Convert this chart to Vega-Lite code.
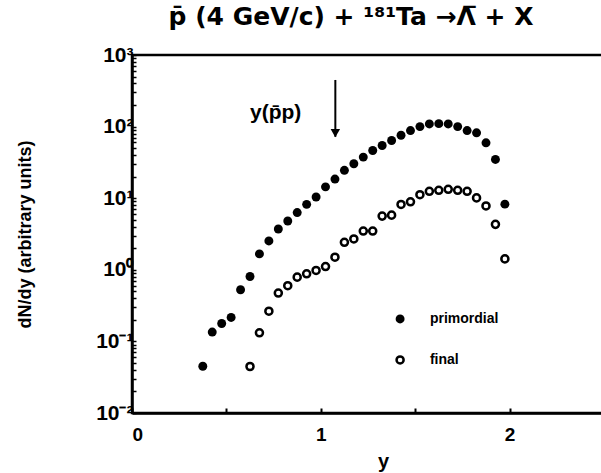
{
  "$schema": "https://vega.github.io/schema/vega-lite/v6.json",
  "width": 472,
  "height": 358,
  "autosize": "none",
  "padding": {"left": 132, "top": 55, "right": 0, "bottom": 60},
  "background": "white",
  "config": {
    "view": {"stroke": "black", "strokeWidth": 2.5},
    "font": "Liberation Sans",
    "axis": {"grid": false, "labelColor": "black", "titleColor": "black"}
  },
  "title": {
    "text": "p̄ (4 GeV/c) + ¹⁸¹Ta →Λ̅ + X",
    "fontSize": 25,
    "fontWeight": "bold",
    "font": "DejaVu Sans",
    "color": "black",
    "anchor": "middle",
    "dx": -17,
    "offset": 14
  },
  "datasets": {
    "primordial": [
      {"y": 0.375, "dNdy": 0.045},
      {"y": 0.425, "dNdy": 0.135},
      {"y": 0.475, "dNdy": 0.178},
      {"y": 0.525, "dNdy": 0.216},
      {"y": 0.575, "dNdy": 0.527},
      {"y": 0.625, "dNdy": 0.807},
      {"y": 0.675, "dNdy": 1.67},
      {"y": 0.725, "dNdy": 2.53},
      {"y": 0.775, "dNdy": 3.71},
      {"y": 0.825, "dNdy": 4.8},
      {"y": 0.875, "dNdy": 6.3},
      {"y": 0.925, "dNdy": 8.2},
      {"y": 0.975, "dNdy": 10.4},
      {"y": 1.025, "dNdy": 14.4},
      {"y": 1.075, "dNdy": 18.5},
      {"y": 1.125, "dNdy": 24.5},
      {"y": 1.175, "dNdy": 30.3},
      {"y": 1.225, "dNdy": 37.5},
      {"y": 1.275, "dNdy": 46.4},
      {"y": 1.325, "dNdy": 54.5},
      {"y": 1.375, "dNdy": 63.9},
      {"y": 1.425, "dNdy": 75.7},
      {"y": 1.475, "dNdy": 88},
      {"y": 1.525, "dNdy": 100},
      {"y": 1.575, "dNdy": 109},
      {"y": 1.625, "dNdy": 110},
      {"y": 1.675, "dNdy": 109},
      {"y": 1.725, "dNdy": 100},
      {"y": 1.775, "dNdy": 88},
      {"y": 1.825, "dNdy": 81.8},
      {"y": 1.875, "dNdy": 59.4},
      {"y": 1.925, "dNdy": 34.8},
      {"y": 1.975, "dNdy": 8.26}
    ],
    "final": [
      {"y": 0.625, "dNdy": 0.0446},
      {"y": 0.675, "dNdy": 0.132},
      {"y": 0.725, "dNdy": 0.264},
      {"y": 0.775, "dNdy": 0.474},
      {"y": 0.825, "dNdy": 0.6},
      {"y": 0.875, "dNdy": 0.79},
      {"y": 0.925, "dNdy": 0.88},
      {"y": 0.975, "dNdy": 0.98},
      {"y": 1.025, "dNdy": 1.11},
      {"y": 1.075, "dNdy": 1.5},
      {"y": 1.125, "dNdy": 2.42},
      {"y": 1.175, "dNdy": 2.7},
      {"y": 1.225, "dNdy": 3.48},
      {"y": 1.275, "dNdy": 3.48},
      {"y": 1.325, "dNdy": 5.62},
      {"y": 1.375, "dNdy": 5.8},
      {"y": 1.425, "dNdy": 8.18},
      {"y": 1.475, "dNdy": 8.9},
      {"y": 1.525, "dNdy": 11.2},
      {"y": 1.575, "dNdy": 12.5},
      {"y": 1.625, "dNdy": 12.9},
      {"y": 1.675, "dNdy": 13.3},
      {"y": 1.725, "dNdy": 12.9},
      {"y": 1.775, "dNdy": 12.5},
      {"y": 1.825, "dNdy": 10.1},
      {"y": 1.875, "dNdy": 7.8},
      {"y": 1.925, "dNdy": 4.31},
      {"y": 1.975, "dNdy": 1.42}
    ],
    "arrow": [{"y": 1.077, "top": 448, "bottom": 72, "tip": 81}],
    "label": [{"y": 0.625, "dNdy": 155, "text": "y(p̄p)"}],
    "legend": [
      {"y": 1.42, "dNdy": 0.206, "tx": 1.578, "text": "primordial", "kind": "primordial"},
      {"y": 1.42, "dNdy": 0.055, "tx": 1.578, "text": "final", "kind": "final"}
    ]
  },
  "layer": [
    {
      "data": {"name": "primordial"},
      "mark": {"type": "point", "shape": "circle", "filled": true, "color": "black", "opacity": 1, "size": 80},
      "encoding": {
        "x": {
          "field": "y", "type": "quantitative",
          "scale": {"domain": [0, 2.5], "nice": false, "zero": false},
          "axis": {
            "orient": "bottom",
            "domain": true, "domainColor": "black", "domainWidth": 2.5,
            "ticks": true, "tickColor": "black", "tickSize": -5, "tickWidth": 2,
            "values": [0, 0.5, 1, 1.5, 2, 2.5],
            "labelExpr": "datum.value==0?'0':datum.value==1?'1':datum.value==2?'2':''",
            "labelFontSize": 19, "labelFontWeight": "bold", "labelPadding": 17,
            "title": "y", "titleFontSize": 20, "titleFontWeight": "bold",
            "titleX": 251, "titleY": 38
          }
        },
        "y": {
          "field": "dNdy", "type": "quantitative",
          "scale": {"type": "log", "domain": [0.01, 1000], "nice": false},
          "axis": {
            "orient": "left",
            "domain": true, "domainColor": "black", "domainWidth": 2.5,
            "ticks": true, "tickColor": "black", "tickSize": -4, "tickWidth": 1.5,
            "values": [0.01, 0.02, 0.03, 0.04, 0.05, 0.06, 0.07, 0.08, 0.09, 0.1, 0.2, 0.3, 0.4, 0.5, 0.6, 0.7, 0.8, 0.9, 1, 2, 3, 4, 5, 6, 7, 8, 9, 10, 20, 30, 40, 50, 60, 70, 80, 90, 100, 200, 300, 400, 500, 600, 700, 800, 900, 1000],
            "labelExpr": "datum.value==1000?'10³':datum.value==100?'10²':datum.value==10?'10¹':datum.value==1?'10⁰':datum.value==0.1?'10⁻¹':datum.value==0.01?'10⁻²':''",
            "labelFontSize": 21, "labelFontWeight": "bold", "labelPadding": 3,
            "labelBaseline": "middle",
            "title": "dN/dy  (arbitrary units)", "titleFontSize": 18, "titleFontWeight": "bold",
            "titleX": -107, "titleY": 179, "titleAlign": "center", "titleBaseline": "middle", "titleAngle": -90
          }
        }
      }
    },
    {
      "data": {"name": "final"},
      "mark": {"type": "point", "shape": "circle", "filled": false, "color": "black", "opacity": 1, "size": 50, "strokeWidth": 2.5},
      "encoding": {
        "x": {"field": "y", "type": "quantitative"},
        "y": {"field": "dNdy", "type": "quantitative"}
      }
    },
    {
      "data": {"name": "arrow"},
      "mark": {"type": "rule", "color": "black", "strokeWidth": 2},
      "encoding": {
        "x": {"field": "y", "type": "quantitative"},
        "y": {"field": "top", "type": "quantitative"},
        "y2": {"field": "bottom"}
      }
    },
    {
      "data": {"name": "arrow"},
      "mark": {"type": "point", "shape": "triangle-down", "filled": true, "color": "black", "opacity": 1, "size": 90},
      "encoding": {
        "x": {"field": "y", "type": "quantitative"},
        "y": {"field": "tip", "type": "quantitative"}
      }
    },
    {
      "data": {"name": "label"},
      "mark": {"type": "text", "align": "left", "baseline": "middle", "fontSize": 21, "fontWeight": "bold", "font": "Liberation Sans", "color": "black"},
      "encoding": {
        "x": {"field": "y", "type": "quantitative"},
        "y": {"field": "dNdy", "type": "quantitative"},
        "text": {"field": "text"}
      }
    },
    {
      "data": {"name": "legend"},
      "transform": [{"filter": "datum.kind=='primordial'"}],
      "mark": {"type": "point", "shape": "circle", "filled": true, "color": "black", "opacity": 1, "size": 80},
      "encoding": {
        "x": {"field": "y", "type": "quantitative"},
        "y": {"field": "dNdy", "type": "quantitative"}
      }
    },
    {
      "data": {"name": "legend"},
      "transform": [{"filter": "datum.kind=='final'"}],
      "mark": {"type": "point", "shape": "circle", "filled": false, "color": "black", "opacity": 1, "size": 50, "strokeWidth": 2.5},
      "encoding": {
        "x": {"field": "y", "type": "quantitative"},
        "y": {"field": "dNdy", "type": "quantitative"}
      }
    },
    {
      "data": {"name": "legend"},
      "mark": {"type": "text", "align": "left", "baseline": "middle", "fontSize": 14, "fontWeight": "bold", "font": "Liberation Sans", "color": "black"},
      "encoding": {
        "x": {"field": "tx", "type": "quantitative"},
        "y": {"field": "dNdy", "type": "quantitative"},
        "text": {"field": "text"}
      }
    }
  ]
}
